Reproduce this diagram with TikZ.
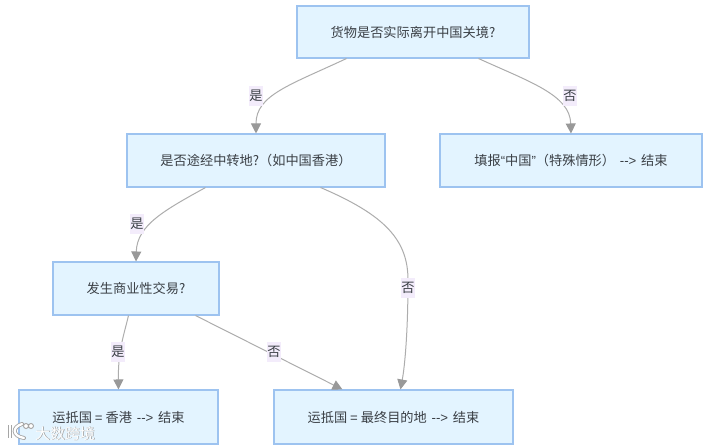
\documentclass[tikz,border=0pt]{standalone}
\usepackage{fontspec}
\setmainfont{Noto Sans CJK SC}
\newfontfamily\latinfont{Liberation Sans}
\usetikzlibrary{arrows.meta,calc}
\definecolor{boxfill}{HTML}{E3F4FF}
\definecolor{boxline}{HTML}{9DC3F0}
\definecolor{edgecol}{HTML}{ADADAD}
\definecolor{tipcol}{HTML}{999999}
\definecolor{labbg}{HTML}{F3ECFB}
\definecolor{txt}{HTML}{3A3F45}
\tikzset{
  x=0.75pt,y=-0.75pt,
  flowbox/.style={draw=boxline,fill=boxfill,line width=0.8pt,inner sep=0pt,text=txt,font=\fontsize{9.9pt}{12pt}\selectfont},
  flowedge/.style={draw=edgecol,line width=0.75pt,-{Triangle[length=7.5pt,width=7.5pt,fill=tipcol,color=tipcol]}},
  edgelabel/.style={fill=labbg,text=txt,inner sep=0pt,minimum width=10pt,minimum height=14.5pt,font=\fontsize{9.9pt}{12pt}\selectfont},
  wmark/.style={inner sep=0pt,font=\fontsize{11.2pt}{12pt}\selectfont}
}
\newcommand{\fbx}[6]{\node[flowbox,minimum width=#4*0.75pt,minimum height=#5*0.75pt] (#1) at (#2,#3) {#6};}
\newcommand{\arrowtxt}{{\latinfont\hspace{3.6pt}-{}->\hspace{3.6pt}}}
\begin{document}
\begin{tikzpicture}
\useasboundingbox (0,0) rectangle (708,447);
\fill[white] (0,0) rectangle (708,447);
\fbx{A}{413}{32}{232}{52}{货物是否实际离开中国关境?}
\fbx{B}{256}{160.5}{258}{53}{是否途经中转地?（如中国香港）}
\fbx{C}{571}{160.5}{262}{53}{填报{\latinfont “}中国{\latinfont ”}（特殊情形）\arrowtxt 结束}
\fbx{D}{136}{288.5}{166}{53}{发生商业性交易?}
\fbx{E}{118.5}{417}{199}{54}{运抵国 {\latinfont =} 香港\arrowtxt 结束}
\fbx{F}{393.5}{417}{239}{54}{运抵国 {\latinfont =} 最终目的地\arrowtxt 结束}
% connectors
\draw[flowedge] ($(A.south west)+(50,0)$) .. controls (290,85) and (256,95) .. (B.north);
\draw[flowedge] ($(A.south east)+(-51,0)$) .. controls (530,82) and (570,95) .. (C.north);
\draw[flowedge] ($(B.south west)+(79,0)$) .. controls (165,210) and (137,225) .. (D.north);
\draw[flowedge] ($(B.south east)+(-65,0)$) .. controls (385,215) and (408,240) .. (408,280) .. controls (408,330) and (405,365) .. ($(F.north west)+(127,0)$);
\draw[flowedge] ($(D.south west)+(76,0)$) .. controls (124,335) and (118,350) .. (E.north);
\draw[flowedge] ($(D.south east)+(-24,0)$) -- ($(F.north west)+(69,0)$);
% edge labels
\node[edgelabel] (l1) at (256,96) {是};
\node[edgelabel] (l2) at (570,96) {否};
\node[edgelabel] (l3) at (137,224) {是};
\node[edgelabel] (l4) at (408,288) {否};
\node[edgelabel] (l5) at (118,352) {是};
\node[edgelabel] (l6) at (274,352) {否};
% watermark
\draw[black!35,line width=3pt,line cap=round] (22,424) .. controls (12,427) and (12,436) .. (24,438);
\draw[white,line width=1.7pt,line cap=round] (22,424) .. controls (12,427) and (12,436) .. (24,438);
\draw[black!35,line width=3pt] (10,425) -- (10,438);
\draw[white,line width=1.7pt] (10,425) -- (10,438);
\draw[black!35,line width=0.7pt,fill=white] (26,426) circle (2.5) (31,426) circle (2.5);
\node[wmark,text=black!40] (wms) at (65.7,434.2) {大数跨境};
\node[wmark,text=white] (wm) at (65,433.5) {大数跨境};
\end{tikzpicture}
\end{document}
